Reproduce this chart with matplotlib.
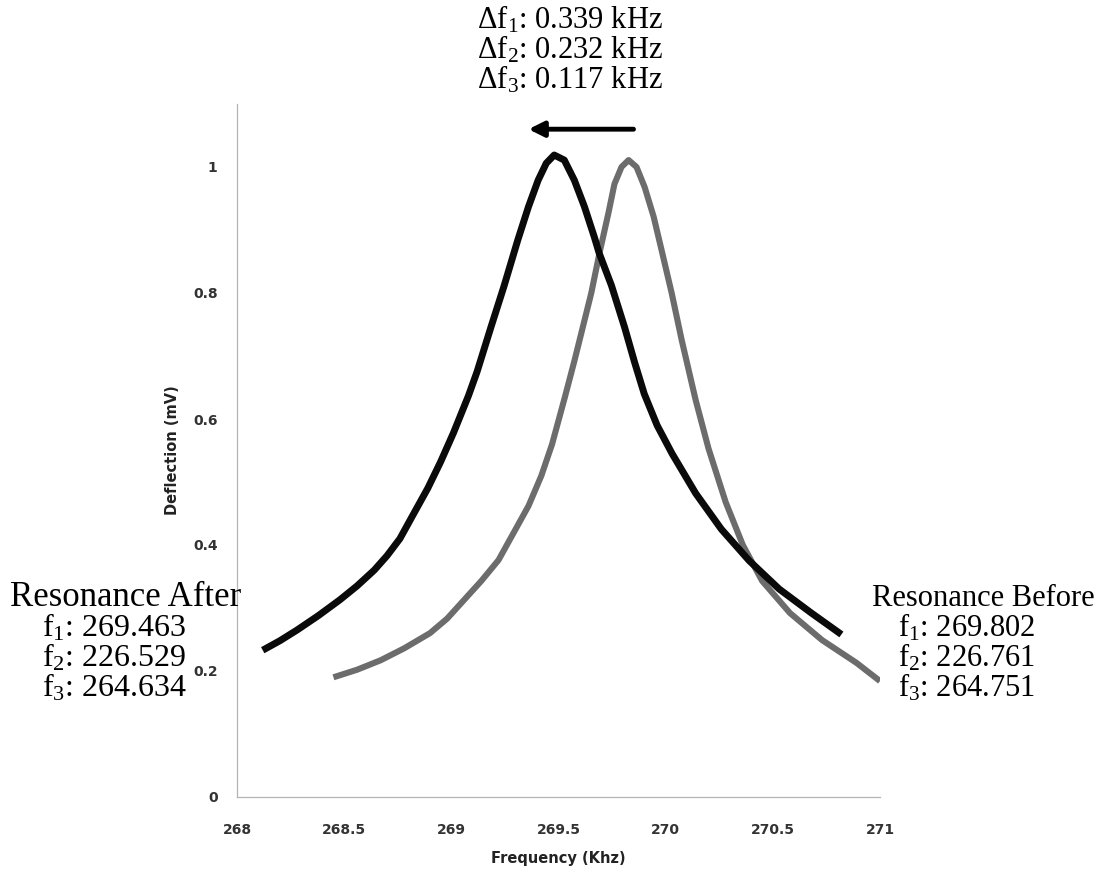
import matplotlib
matplotlib.use("Agg")
import matplotlib.pyplot as plt

# resonance curves (frequency in kHz, deflection in mV)
freq_after = [268.12, 268.20, 268.28, 268.38, 268.48, 268.56, 268.64, 268.70,
              268.76, 268.82, 268.89, 268.95, 269.01, 269.08, 269.12, 269.185,
              269.245, 269.31, 269.36, 269.405, 269.443, 269.48, 269.527, 269.574,
              269.621, 269.667, 269.69, 269.747, 269.808, 269.855, 269.90, 269.96,
              270.03, 270.14, 270.26, 270.39, 270.53, 270.68, 270.82]
defl_after = [0.233, 0.248, 0.265, 0.288, 0.313, 0.335, 0.360, 0.383,
              0.410, 0.447, 0.490, 0.532, 0.578, 0.637, 0.675, 0.746,
              0.810, 0.884, 0.937, 0.979, 1.006, 1.019, 1.011, 0.979,
              0.937, 0.889, 0.863, 0.812, 0.746, 0.690, 0.640, 0.590,
              0.545, 0.482, 0.425, 0.375, 0.330, 0.292, 0.258]

freq_before = [268.45, 268.56, 268.67, 268.78, 268.90, 268.98, 269.06, 269.14,
               269.22, 269.29, 269.36, 269.42, 269.47, 269.53, 269.574, 269.607,
               269.653, 269.691, 269.733, 269.761, 269.794, 269.827, 269.864, 269.902,
               269.944, 269.981, 270.028, 270.075, 270.14, 270.20, 270.28, 270.36,
               270.45, 270.58, 270.73, 270.89, 271.00]
defl_before = [0.190, 0.202, 0.217, 0.236, 0.260, 0.283, 0.313, 0.343,
               0.376, 0.419, 0.462, 0.510, 0.560, 0.635, 0.692, 0.737,
               0.800, 0.863, 0.927, 0.973, 1.000, 1.011, 1.000, 0.968,
               0.921, 0.868, 0.800, 0.725, 0.630, 0.553, 0.468, 0.400,
               0.343, 0.292, 0.249, 0.213, 0.184]

x_ticks = [268, 268.5, 269, 269.5, 270, 270.5, 271]
x_tick_labels = ["268", "268.5", "269", "269.5", "270", "270.5", "271"]
y_ticks = [0, 0.2, 0.4, 0.6, 0.8, 1.0]
y_tick_labels = ["0", "0.2", "0.4", "0.6", "0.8", "1"]

shift_lines = [r"Δf$_1$: 0.339 kHz", r"Δf$_2$: 0.232 kHz", r"Δf$_3$: 0.117 kHz"]
after_lines = [r"f$_1$: 269.463", r"f$_2$: 226.529", r"f$_3$: 264.634"]
before_lines = [r"f$_1$: 269.802", r"f$_2$: 226.761", r"f$_3$: 264.751"]

plt.rcParams["mathtext.fontset"] = "custom"
plt.rcParams["mathtext.rm"] = "Liberation Serif"
plt.rcParams["mathtext.it"] = "Liberation Serif:italic"

W, H = 1107, 876
fig = plt.figure(figsize=(W / 100, H / 100), dpi=100)
ax = fig.add_axes([237 / W, 1 - 797 / H, (880 - 237) / W, (797 - 104) / H])

ax.plot(freq_before, defl_before, color="#6c6c6c", lw=4.4,
        solid_capstyle="butt", solid_joinstyle="round")
ax.plot(freq_after, defl_after, color="#0a0a0a", lw=5.0,
        solid_capstyle="butt", solid_joinstyle="round")

ax.set_xlim(268, 271)
ax.set_ylim(0, 1.1)
ax.set_xticks(x_ticks)
ax.set_xticklabels(x_tick_labels)
ax.set_yticks(y_ticks)
ax.set_yticklabels(y_tick_labels)
ax.tick_params(length=0, labelsize=10, labelcolor="#333333")
ax.tick_params(axis="x", pad=19)
ax.tick_params(axis="y", pad=14)
for lab in ax.get_xticklabels() + ax.get_yticklabels():
    lab.set_fontweight("bold")

for side in ["top", "right"]:
    ax.spines[side].set_visible(False)
for side in ["left", "bottom"]:
    ax.spines[side].set_color("#b5b5b5")
    ax.spines[side].set_linewidth(0.9)
    ax.spines[side].set_linestyle((0, (1, 1)))

ax.set_xlabel("Frequency (Khz)", fontsize=10.5, fontweight="bold", color="#222222", labelpad=10)
ax.set_ylabel("Deflection (mV)", fontsize=10.5, fontweight="bold", color="#222222", labelpad=9)

# shift arrow from old peak to new peak
ax.annotate("", xy=(269.36, 1.06), xytext=(269.85, 1.06), xycoords="data",
            annotation_clip=False,
            arrowprops=dict(arrowstyle="-|>,head_length=0.9,head_width=0.45",
                            color="black", lw=3.5, shrinkA=0, shrinkB=0))


def put(px, py, s, size):
    fig.text(px / W, 1 - py / H, s, family="Liberation Serif", fontsize=size,
             color="black", va="center")


for i, s in enumerate(shift_lines):
    put(477, 20 + 30 * i, s, 22)

put(10, 598, "Resonance After", 25)
for i, s in enumerate(after_lines):
    put(42, 628 + 30 * i, s, 23)

put(872, 598, "Resonance Before", 22)
for i, s in enumerate(before_lines):
    put(898, 628 + 30 * i, s, 22)

fig.savefig("out.png", dpi=100)
